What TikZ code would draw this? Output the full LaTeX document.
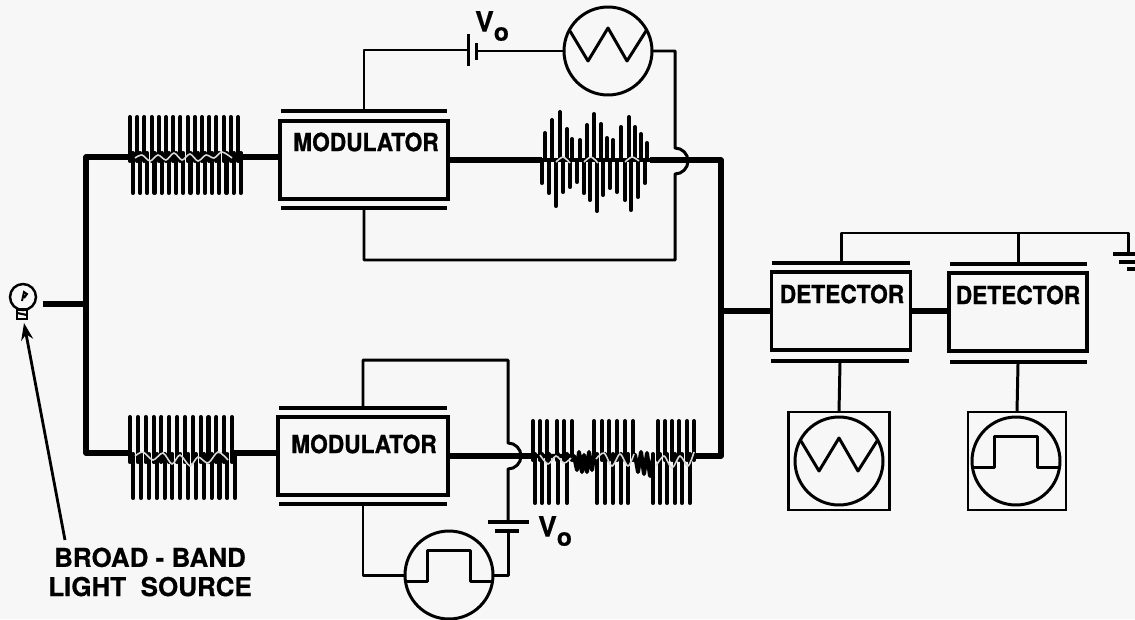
\documentclass[tikz,border=0pt]{standalone}
\usepackage{fontspec}
\setmainfont[BoldFeatures={FakeBold=0.5}]{TeX Gyre Heros}
\newfontfamily\boxfont[FakeStretch=0.91,BoldFeatures={FakeBold=1}]{TeX Gyre Heros}
\usepackage{tikz}
\usetikzlibrary{arrows.meta}

\newcommand{\triwave}[1]{\draw [wire] (#1) +(-38,20) -- +(-20,-10) -- +(0,23) -- +(19,-10) -- +(38,20);}
\newcommand{\pulsewave}[1]{\draw [wire] (#1) +(-43,-6) -- +(-22,-6) -- +(-22,25) -- +(21,25) -- +(21,-6) -- +(43,-6);}
\newcommand{\cwtrain}[6]{\foreach \k in {1,...,#3} {\draw [tooth] ({#1+(\k-1)*#2},#4) -- ({#1+(\k-1)*#2},#6-4); \draw [tooth] ({#1+(\k-0.6)*#2},#5) -- ({#1+(\k-0.6)*#2},#6+4);}}

\begin{document}
\begin{tikzpicture}[x=0.02cm, y=0.02cm]
\tikzstyle{every node}+=[inner sep=0pt, outer sep=0pt]
\tikzstyle{wire}=[line width=1.7pt, line join=round]
\tikzstyle{mainline}=[line width=2.9pt, line join=round]
\tikzstyle{tooth}=[line width=2.3pt, line cap=round]
\tikzstyle{wavepen}=[line width=2.3pt, line join=round]
\tikzstyle{wiggle}=[line width=0.9pt, black!15, smooth]
\tikzstyle{unitbox}=[draw, rectangle, line width=2.2pt, minimum height=1.57cm]
\tikzstyle{hplate}=[fill=black, rectangle, minimum height=0.07cm]
\tikzstyle{vplate}=[fill=black, rectangle, minimum width=0.06cm]
\tikzstyle{dial}=[draw, circle, line width=1.7pt, minimum size=1.76cm]
\tikzstyle{dialbox}=[draw, rectangle, line width=1.5pt, minimum height=1.96cm]
\tikzstyle{trainspot}=[rectangle, minimum height=1.5cm]
\tikzstyle{boxlabel}=[font=\boxfont\bfseries\fontsize{14.2}{17}\selectfont]
\tikzstyle{voltlabel}=[font=\bfseries\fontsize{16}{18}\selectfont]
\useasboundingbox (0,0) rectangle (1135,-619);
\fill [black!3] (0,0) rectangle (1135,-619);

% light source
\node [draw, circle, line width=1.4pt, minimum size=0.52cm] (lamp) at (23,-297) {};
\node [draw, rectangle, line width=1.7pt, minimum width=0.2cm, minimum height=0.2cm] (lampbase) at (22,-314) {};
\draw [line width=1.1pt] (22,-301) -- (24,-292) -- (27,-294) -- (24,-298);
\draw [line width=1.2pt] (17,-313) -- (27,-315);
\node [font=\bfseries\fontsize{14.8}{16.6}\selectfont, align=center] (sourcelabel) at (150,-572) {BROAD - BAND\\LIGHT\ \ SOURCE};
\coordinate (arrowfoot) at (65,-540);
\coordinate (arrowtip) at (24,-323);
\draw [line width=1.6pt, -{Stealth[length=0.34cm,width=0.24cm]}] (arrowfoot) -- (arrowtip);

% splitter
\coordinate (lampout) at (43,-304);
\coordinate (split) at (86,-304);
\draw [mainline] (lampout) -- (split);

% upper arm
\node [trainspot, minimum width=2.3cm] (cwtop) at (186,-157) {};
\node [unitbox, minimum width=3.36cm] (modtop) at (364,-160) {};
\node [boxlabel] (modtoplabel) at (366,-142) {MODULATOR};
\node [hplate, minimum width=3.34cm] (modtopup) at (364,-111) {};
\node [hplate, minimum width=3.34cm] (modtopdn) at (364,-208) {};
\node [trainspot, minimum width=2.16cm] (amtop) at (596,-160) {};
\draw [mainline] (split) |- (cwtop.west);
\draw [mainline] (cwtop.east) -- (modtop.west |- cwtop.east);
\draw [mainline] (modtop.east) -- (amtop.west);
\cwtrain{130}{7.2}{16}{-117}{-193}{-157}
\draw [wiggle] plot coordinates {(135,-158) (142,-155) (150,-161) (158,-155) (166,-160) (174,-153) (182,-160) (190,-154) (198,-161) (206,-155) (214,-158) (222,-152) (232,-158)};
\foreach \x/\y in {545/-133,552/-120,560/-112,567/-129,572/-139,580/-140,587/-125,594/-114,601/-124,607/-138,613/-140,621/-127,629/-117,635/-127,641/-134,647/-143,542/-183,549/-193,556/-206,563/-192,570/-187,577/-182,584/-193,590/-200,597/-211,603/-195,610/-188,617/-192,625/-200,631/-210,638/-197,645/-183}
  \draw [tooth] (\x,-160) -- (\x,\y);
\draw [wavepen] (amtop.west) -- (amtop.east);
\draw [wiggle] plot coordinates {(556,-162) (563,-157) (570,-163)};
\draw [wiggle] plot coordinates {(584,-162) (591,-157) (598,-163)};
\draw [wiggle] plot coordinates {(625,-162) (632,-157) (639,-161)};

% upper bias loop
\node [vplate, minimum height=0.66cm] (battoplong) at (468,-50) {};
\node [vplate, minimum height=0.34cm] (battopshort) at (476,-51) {};
\node [voltlabel] (voltop) at (492,-26) {V\raisebox{-0.6ex}{\fontsize{14}{14}\selectfont o}};
\node [dial] (dialtop) at (608,-51) {};
\triwave{dialtop}
\coordinate (hoptopa) at (675,-148);
\coordinate (hoptopb) at (675,-260);
\draw [wire] (modtopup.north) |- (battoplong);
\draw [wire] (battopshort) -- (dialtop.west);
\draw [wire] (dialtop.east) -| (hoptopa) arc (90:-90:13) -- (hoptopb) -| (modtopdn.south);

% lower arm
\node [trainspot, minimum width=2.12cm] (cwbot) at (181,-453) {};
\node [unitbox, minimum width=3.4cm] (modbot) at (363,-456) {};
\node [boxlabel] (modbotlabel) at (364,-444) {MODULATOR};
\node [hplate, minimum width=3.38cm] (modbotup) at (363,-408) {};
\node [hplate, minimum width=3.38cm] (modbotdn) at (363,-504) {};
\node [trainspot, minimum width=3.26cm] (pmbot) at (614,-456) {};
\draw [mainline] (split) |- (cwbot.west);
\draw [mainline] (cwbot.east) -- (modbot.west |- cwbot.east);
\draw [mainline] (modbot.east) -- (pmbot.west);
\cwtrain{130}{7.85}{14}{-417}{-498}{-458}
\draw [wiggle] plot coordinates {(135,-456) (143,-452) (153,-460) (163,-453) (172,-464) (180,-455) (190,-466) (198,-457) (208,-463) (218,-452) (228,-460)};
\foreach \x in {533,540,547,557,564,572,594,602,609,617,625,633,658,665,672,679,687,694}
  \draw [tooth] (\x,-421) -- (\x,-460);
\foreach \x in {535,542,549,558,567,597,605,613,621,628,653,660,667,675,682,690}
  \draw [tooth] (\x,-503) -- (\x,-454);
\draw [wavepen] (pmbot.west) -- (574,-456) -- (577,-470) -- (579,-452) -- (582,-472) -- (584,-455) -- (587,-472) -- (589,-452) -- (592,-470) -- (594,-456);
\draw [wavepen] (633,-456) -- (635,-455) -- (638,-472) -- (641,-452) -- (644,-474) -- (647,-453) -- (650,-476) -- (653,-458);
\draw [mainline] (694,-456) -- (pmbot.east);
\draw [wiggle] plot coordinates {(540,-455) (548,-464) (556,-456) (564,-463) (571,-458)};
\draw [wiggle] plot coordinates {(596,-459) (604,-453) (612,-466) (620,-454) (628,-466) (634,-454)};
\draw [wiggle] plot coordinates {(656,-466) (664,-456) (672,-468) (680,-456) (688,-466) (694,-452)};

% lower bias loop
\node [hplate, minimum width=0.82cm] (batbotlong) at (508,-522) {};
\node [hplate, minimum width=0.48cm] (batbotshort) at (507,-531) {};
\node [voltlabel] (voltbot) at (555,-531) {V\raisebox{-0.6ex}{\fontsize{14}{14}\selectfont o}};
\node [dial] (dialbot) at (449,-575) {};
\pulsewave{dialbot}
\coordinate (hopbota) at (508,-443);
\coordinate (hopbotb) at (508,-360);
\draw [wire] (modbotup.north) |- (hopbotb) -- (hopbota) arc (90:-90:13) -- (batbotlong.north -| hopbota);
\draw [wire] (batbotshort.south -| hopbota) |- (dialbot.east);
\draw [wire] (dialbot.west) -| (modbotdn.south);

% bus to detectors
\coordinate (busup) at (721,-160);
\coordinate (busdn) at (721,-456);
\node [unitbox, minimum width=2.78cm] (detone) at (841,-311) {};
\node [boxlabel] (detonelabel) at (842,-294) {DETECTOR};
\node [hplate, minimum width=2.76cm] (detoneup) at (841,-263) {};
\node [hplate, minimum width=2.76cm] (detonedn) at (840,-361) {};
\node [unitbox, minimum width=2.76cm] (dettwo) at (1018,-312) {};
\node [boxlabel] (dettwolabel) at (1018,-295) {DETECTOR};
\node [hplate, minimum width=2.74cm] (dettwoup) at (1018,-264) {};
\node [hplate, minimum width=2.74cm] (dettwodn) at (1018,-362) {};
\draw [mainline] (amtop.east) -- (busup) -- (busdn) -- (pmbot.east);
\draw [mainline] (busup |- detone.west) -- (detone.west);
\draw [mainline] (detone.east) -- (dettwo.west |- detone.east);

% ground return
\coordinate (gndbus) at (1128,-233);
\node [hplate, minimum width=0.44cm] (gndone) at (1124,-254) {};
\node [hplate, minimum width=0.32cm] (gndtwo) at (1127,-262) {};
\node [hplate, minimum width=0.18cm] (gndthree) at (1131,-269) {};
\draw [wire] (detoneup.north) |- (gndbus) -- (gndbus |- gndone.north);
\draw [wire] (dettwoup.north) -- (dettwoup.north |- gndbus);

% output displays
\node [dialbox, minimum width=2.02cm] (screenone) at (839,-461) {};
\node [dial] (dialone) at (839,-461) {};
\triwave{dialone}
\node [dialbox, minimum width=1.96cm] (screentwo) at (1017,-461) {};
\node [dial] (dialtwo) at (1016,-461) {};
\pulsewave{dialtwo}
\draw [wire] (detonedn.south) -- (screenone.north);
\draw [wire] (dettwodn.south) -- (screentwo.north);
\end{tikzpicture}
\end{document}
